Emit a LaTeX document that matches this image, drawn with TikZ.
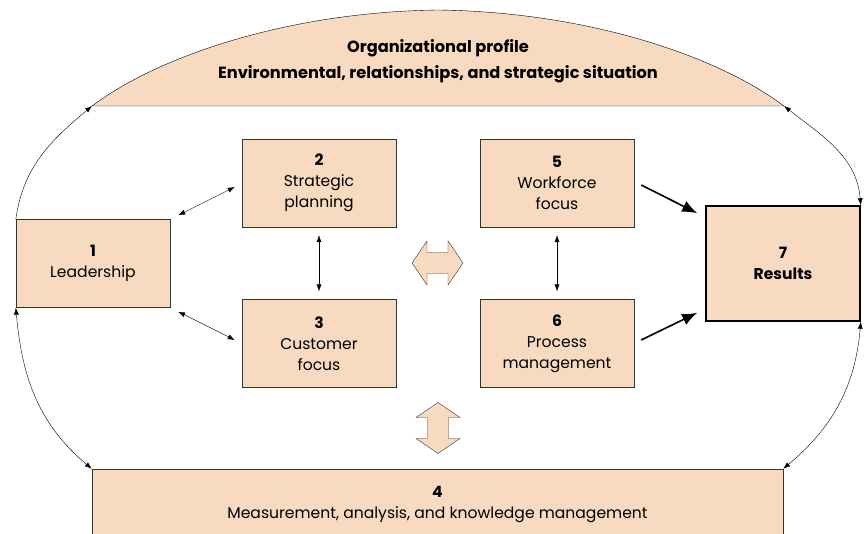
\documentclass[tikz,border=0pt]{standalone}
\usepackage{fontspec}
\setmainfont{Poppins}
\usetikzlibrary{positioning,shapes,calc,arrows.meta}
\definecolor{peach}{RGB}{248,218,193}
\tikzset{
  box/.style={draw=black!80,fill=peach,minimum width=154pt,minimum height=88pt,
    inner sep=0pt,align=center,font=\fontsize{15.6}{21}\selectfont},
  link/.style={{Latex[length=7pt,width=5pt]}-{Latex[length=7pt,width=5pt]},thin},
  feed/.style={-{Latex[length=15pt,width=12pt]},line width=1.6pt},
  blockarrow/.style={draw=black!80,fill=peach}
}
\begin{document}
\begin{tikzpicture}[x=1pt,y=1pt]
      \useasboundingbox (0,0) rectangle (868,534);
      % profile dome
      \coordinate (OL) at (92,428);
      \coordinate (OR) at (784,428);
      \draw[fill=peach] (OL) .. controls (160,479) and (290,522) .. (438,524)
            .. controls (586,522) and (716,479) .. (OR) -- cycle;
      \node[align=center,font=\fontsize{16.2}{26}\selectfont\bfseries] (O) at (438,473)
            {Organizational profile\\Environmental, relationships, and strategic situation};
      % categories
      \node[box] (L) at (93,270.5) {\textbf{1}\\Leadership};
      \node[box] (S) at (319,351) {\textbf{2}\\Strategic\\planning};
      \node[box] (C) at (319,190.5) {\textbf{3}\\Customer\\focus};
      \node[box] (W) at (557,351) {\textbf{5}\\Workforce\\focus};
      \node[box] (P) at (557,190.5) {\textbf{6}\\Process\\management};
      \node[box,draw=black,line width=1.6pt,minimum height=115pt,
            font=\fontsize{15.6}{21}\selectfont\bfseries] (R) at (783,270.5) {7\\Results};
      \node[box,draw=none,minimum width=691pt,minimum height=70pt] (M) at (437.5,30)
            {\textbf{4}\\Measurement, analysis, and knowledge management};
      \draw[black!80] (M.south west) |- (M.north east) -- (M.south east);
      % block arrows
      \coordinate (H) at (437.5,271);
      \coordinate (V) at (438,106);
      \draw[blockarrow] (H) ++(-25.5,0) -- ++(15,22) -- ++(0,-11.5) -- ++(21,0) -- ++(0,11.5)
            -- ++(15,-22) -- ++(-15,-22) -- ++(0,11.5) -- ++(-21,0) -- ++(0,-11.5) -- cycle;
      \draw[blockarrow] (V) ++(0,25.5) -- ++(22,-15) -- ++(-11.5,0) -- ++(0,-21) -- ++(11.5,0)
            -- ++(-22,-15) -- ++(-22,15) -- ++(11.5,0) -- ++(0,21) -- ++(-11.5,0) -- cycle;
      % links
      \draw[link] ([shift={(8,4)}]L.north east) -- ([shift={(-7,-4)}]S.west);
      \draw[link] ([shift={(8,-4)}]L.south east) -- ([shift={(-7,3.5)}]C.west);
      \draw[link,shorten <=8pt,shorten >=8pt] (S) -- (C);
      \draw[link,shorten <=8pt,shorten >=8pt] (W) -- (P);
      \draw[feed] ([shift={(7,-2)}]W.east) -- ([shift={(-8,-8)}]R.north west);
      \draw[feed] ([shift={(7,3.5)}]P.east) -- ([shift={(-8,9)}]R.south west);
      % outer loop
      \draw[-{Latex[length=7pt,width=5pt]},thin] (L.north west) to[out=82,in=-140] (OL);
      \draw[link] (OR) to[out=-38,in=95] (R.north east);
      \draw[link] (R.south east) to[out=-95,in=40] (M.north east);
      \draw[link] (L.south west) to[out=-85,in=140] (M.north west);
\end{tikzpicture}
\end{document}
